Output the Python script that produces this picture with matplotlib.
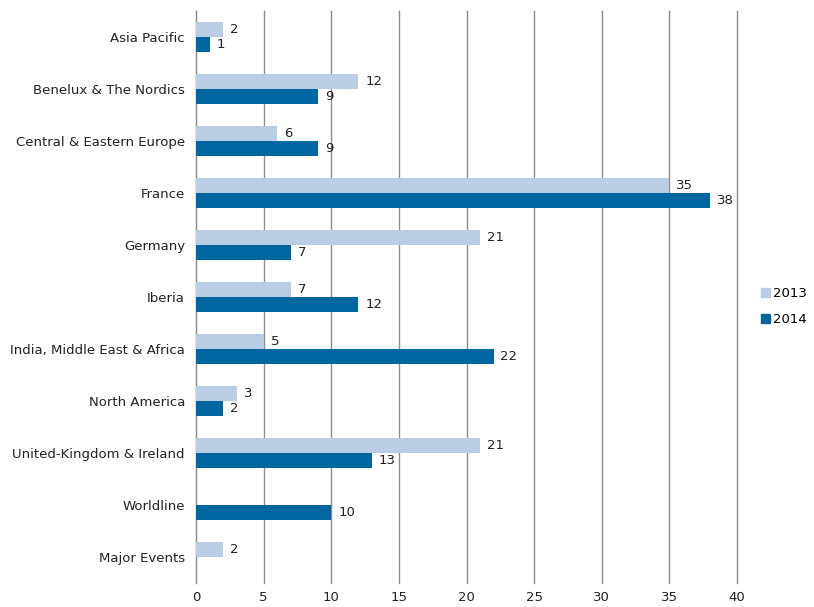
import numpy as np
import matplotlib.pyplot as plt
from matplotlib.patches import Patch

categories = ["Asia Pacific", "Benelux & The Nordics", "Central & Eastern Europe",
              "France", "Germany", "Iberia", "India, Middle East & Africa",
              "North America", "United-Kingdom & Ireland", "Worldline", "Major Events"]
values_2013 = [2, 12, 6, 35, 21, 7, 5, 3, 21, None, 2]
values_2014 = [1, 9, 9, 38, 7, 12, 22, 2, 13, 10, None]
xticks = [0, 5, 10, 15, 20, 25, 30, 35, 40]

c13 = "#b9cde5"
c14 = "#0066a1"

plt.rcParams["font.family"] = "DejaVu Sans"
plt.rcParams["font.size"] = 9.5

fig = plt.figure(figsize=(8.14, 6.07), dpi=100)
ax = fig.add_axes([0.2408, 0.0395, 0.6646, 0.9425])

y = np.arange(len(categories))
h = 0.29

for i, (v13, v14) in enumerate(zip(values_2013, values_2014)):
    if v13 is not None:
        ax.barh(y[i] - h / 2, v13, height=h, color=c13, zorder=3)
        ax.annotate(str(v13), (v13, y[i] - h / 2), xytext=(5, 0), textcoords="offset points",
                    va="center", ha="left", color="#222222", fontsize=9.5)
    if v14 is not None:
        ax.barh(y[i] + h / 2, v14, height=h, color=c14, zorder=3)
        ax.annotate(str(v14), (v14, y[i] + h / 2), xytext=(5, 0), textcoords="offset points",
                    va="center", ha="left", color="#222222", fontsize=9.5)

ax.set_yticks(y, categories)
ax.set_ylim(len(categories) - 0.5, -0.5)
ax.set_xlim(0, 40)
ax.set_xticks(xticks)
ax.tick_params(length=0, pad=8, colors="#222222")
ax.tick_params(axis="x", pad=6)

ax.grid(axis="x", color="#8c8c8c", linewidth=1, zorder=0)
for line in ax.get_xgridlines():
    line.set_clip_on(False)
for s in ["top", "right", "bottom"]:
    ax.spines[s].set_visible(False)
ax.spines["left"].set_color("#8c8c8c")

handles = [Patch(color=c13, label="2013"), Patch(color=c14, label="2014")]
fig.legend(handles=handles, loc="center left", bbox_to_anchor=(0.935, 0.495),
           frameon=False, handlelength=0.7, handleheight=0.7, handletextpad=0.2,
           labelspacing=1.0, borderaxespad=0, borderpad=0)

fig.savefig("out.png", dpi=100)
